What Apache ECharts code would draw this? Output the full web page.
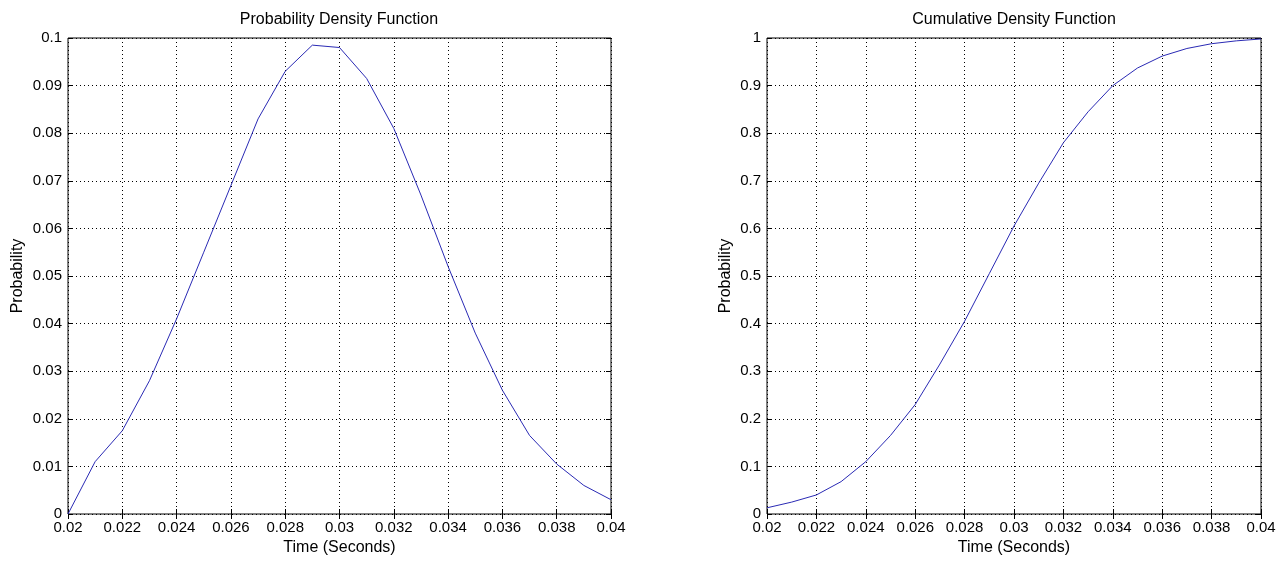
<!DOCTYPE html>
<html>
<head>
<meta charset="utf-8">
<script src="https://cdn.jsdelivr.net/npm/echarts@6/dist/echarts.min.js"></script>
<style>
html,body{margin:0;padding:0;background:#fff;}
#c{width:1283px;height:566px;}
</style>
</head>
<body>
<div id="c"></div>
<script>
// Data
const timeValues = [0.020,0.021,0.022,0.023,0.024,0.025,0.026,0.027,0.028,0.029,0.030,0.031,0.032,0.033,0.034,0.035,0.036,0.037,0.038,0.039,0.040];
const pdfValues = [0.000,0.011,0.0175,0.028,0.041,0.055,0.069,0.083,0.093,0.0985,0.098,0.0915,0.081,0.067,0.052,0.038,0.026,0.0165,0.0105,0.006,0.003];
const cdfValues = [0.013,0.025,0.040,0.068,0.110,0.165,0.230,0.315,0.405,0.505,0.605,0.695,0.780,0.845,0.900,0.937,0.962,0.978,0.988,0.994,0.998];
const titles = ['Probability Density Function','Cumulative Density Function'];
const xName = 'Time (Seconds)';
const yName = 'Probability';

const FONT = 'Liberation Sans, Arial, Helvetica, sans-serif';
const lineColor = '#2a2ab4';

const grids = [
  {left:68, right:672, top:38, bottom:52},
  {left:767, right:22, top:38, bottom:52}
];

function mainX(gi){
  return {
    type:'value', gridIndex:gi, min:0.02, max:0.04, interval:0.002,
    name:xName, nameLocation:'middle', nameGap:26,
    nameTextStyle:{color:'#000', fontFamily:FONT, fontSize:16},
    axisLine:{show:false},
    axisTick:{show:true, inside:true, length:5, lineStyle:{color:'#000'}},
    axisLabel:{color:'#000', fontFamily:FONT, fontSize:15, margin:6},
    splitLine:{show:true, lineStyle:{color:'#000', type:[1,3], width:1}}
  };
}
function topX(gi){
  return {
    type:'value', gridIndex:gi, position:'top', min:0.02, max:0.04, interval:0.002,
    axisLine:{show:false},
    axisTick:{show:true, inside:true, length:5, lineStyle:{color:'#000'}},
    axisLabel:{show:false}, splitLine:{show:false}
  };
}
function mainY(gi, max, interval, gap){
  return {
    type:'value', gridIndex:gi, min:0, max:max, interval:interval,
    name:yName, nameLocation:'middle', nameGap:gap,
    nameTextStyle:{color:'#000', fontFamily:FONT, fontSize:16},
    axisLine:{show:false},
    axisTick:{show:true, inside:true, length:5, lineStyle:{color:'#000'}},
    axisLabel:{color:'#000', fontFamily:FONT, fontSize:15, margin:6},
    splitLine:{show:true, lineStyle:{color:'#000', type:[1,3], width:1}}
  };
}
function rightY(gi, max, interval){
  return {
    type:'value', gridIndex:gi, position:'right', min:0, max:max, interval:interval,
    axisLine:{show:false},
    axisTick:{show:true, inside:true, length:5, lineStyle:{color:'#000'}},
    axisLabel:{show:false}, splitLine:{show:false}
  };
}

const chart = echarts.init(document.getElementById('c'), null, {renderer:'canvas'});
chart.setOption({
  backgroundColor:'#fff',
  animation:false,
  title:[
    {text:titles[0], left:339, top:12, textAlign:'center', padding:0,
     textStyle:{color:'#000', fontFamily:FONT, fontSize:16, fontWeight:'normal'}},
    {text:titles[1], left:1014, top:12, textAlign:'center', padding:0,
     textStyle:{color:'#000', fontFamily:FONT, fontSize:16, fontWeight:'normal'}}
  ],
  grid: grids.map(g => Object.assign({show:true, borderColor:'#000', borderWidth:1, backgroundColor:'transparent'}, g)),
  xAxis:[mainX(0), topX(0), mainX(1), topX(1)],
  yAxis:[mainY(0, 0.1, 0.01, 42), rightY(0, 0.1, 0.01), mainY(1, 1, 0.1, 33), rightY(1, 1, 0.1)],
  series:[
    {type:'line', xAxisIndex:0, yAxisIndex:0, showSymbol:false, symbol:'none',
     lineStyle:{color:lineColor, width:1}, data: timeValues.map((t,i)=>[t, pdfValues[i]])},
    {type:'line', xAxisIndex:2, yAxisIndex:2, showSymbol:false, symbol:'none',
     lineStyle:{color:lineColor, width:1}, data: timeValues.map((t,i)=>[t, cdfValues[i]])}
  ]
});
</script>
</body>
</html>
